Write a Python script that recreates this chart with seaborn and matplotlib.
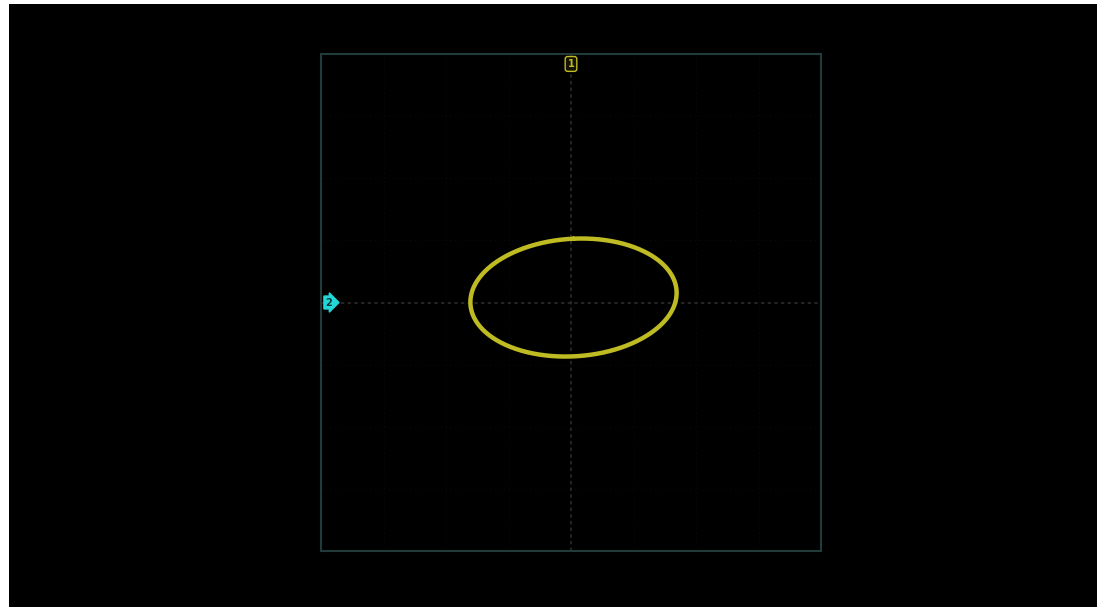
import numpy as np
import pandas as pd
import matplotlib
matplotlib.use("Agg")
import matplotlib.pyplot as plt
import seaborn as sns
from matplotlib.patches import Rectangle

# XY-mode trace settings (divisions, 8 x 8 grid)
ch1_amplitude = 1.65   # horizontal (CH1) peak, div
ch2_amplitude = 0.95   # vertical (CH2) peak, div
ch1_offset = 0.04
ch2_offset = 0.08
phase_deg = 85.5
n_samples = 400

divisions = 8
trace_color = "#bfbb22"
grid_color = "#233a3a"
axis_color = "#2c2c2c"

t = np.linspace(0, 2 * np.pi, n_samples)
trace = pd.DataFrame({
    "ch1": ch1_offset + ch1_amplitude * np.sin(t),
    "ch2": ch2_offset + ch2_amplitude * np.sin(t + np.deg2rad(phase_deg)),
})

sns.set_style("dark", {"axes.facecolor": "black", "figure.facecolor": "white"})

fig = plt.figure(figsize=(10.97, 6.07), dpi=100)
fig.add_artist(Rectangle((9 / 1097, 0), 1, 1 - 4 / 607, transform=fig.transFigure,
                         facecolor="black", edgecolor="none", zorder=-10))

ax = fig.add_axes([321 / 1097, 56 / 607, 500 / 1097, 497 / 607])
ax.set_zorder(5)
ax.set_facecolor("black")
half = divisions / 2
ax.set_xlim(-half, half)
ax.set_ylim(-half, half)

# very faint division grid
for v in np.arange(-half + 1, half):
    if v == 0:
        continue
    ax.axvline(v, color="#0b0b0b", lw=0.8, ls=(0, (1, 3)), zorder=1)
    ax.axhline(v, color="#0b0b0b", lw=0.8, ls=(0, (1, 3)), zorder=1)
# centre crosshair
ax.axvline(0, color=axis_color, lw=1.2, ls=(0, (2, 2)), zorder=1)
ax.axhline(0, color=axis_color, lw=1.2, ls=(0, (2, 2)), zorder=1)

sns.lineplot(data=trace, x="ch1", y="ch2", sort=False, estimator=None, ax=ax,
             color=trace_color, lw=3.2, solid_joinstyle="round", zorder=3)

for s in ax.spines.values():
    s.set_color(grid_color)
    s.set_linewidth(1.5)
ax.set_xticks([])
ax.set_yticks([])
ax.set_xlabel("")
ax.set_ylabel("")
ax.grid(False)

# channel markers
ax.text(0, half - 0.16, "1", ha="center", va="center", fontsize=7, color=trace_color,
        fontweight="bold",
        bbox=dict(boxstyle="round,pad=0.25", fc="#141400", ec=trace_color, lw=1), zorder=5)
ax.text(-half + 0.07, 0, "2", ha="left", va="center", fontsize=7, color="#0a3a3a",
        fontweight="bold",
        bbox=dict(boxstyle="rarrow,pad=0.15", fc="#22d8d8", ec="#22d8d8", lw=1), zorder=5)

fig.savefig("out.png", dpi=100, facecolor="white")
